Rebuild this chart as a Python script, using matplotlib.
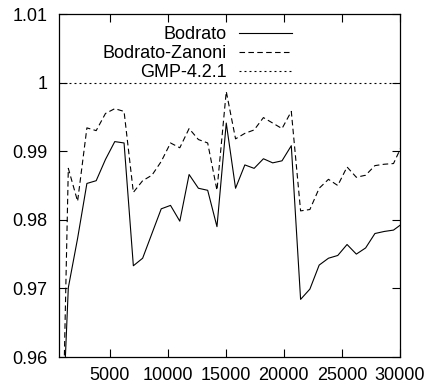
import matplotlib
matplotlib.use("Agg")
import matplotlib.pyplot as plt

plt.rcParams['font.family'] = ['Liberation Sans', 'DejaVu Sans']
plt.rcParams['lines.scale_dashes'] = False

# operand size vs. time ratio to GMP
sizes = [640, 1440, 2240, 3040, 3840, 4640, 5440, 6240, 7040, 7840,
         8640, 9440, 10240, 11040, 11840, 12640, 13440, 14240, 15040, 15840,
         16640, 17440, 18240, 19040, 19840, 20640, 21440, 22240, 23040, 23840,
         24640, 25440, 26240, 27040, 27840, 28640, 29440, 30240]
bodrato = [0.938, 0.9701, 0.9773, 0.9853, 0.9857, 0.9888, 0.9914, 0.9912,
           0.9733, 0.9744, 0.9780, 0.9816, 0.9821, 0.9798, 0.9866, 0.9846,
           0.9843, 0.9790, 0.9941, 0.9846, 0.9880, 0.9875, 0.9889, 0.9883,
           0.9886, 0.9908, 0.9684, 0.9699, 0.9734, 0.9744, 0.9748, 0.9764,
           0.9750, 0.9759, 0.9780, 0.9783, 0.9785, 0.9795]
zanoni = [0.923, 0.9875, 0.9827, 0.9934, 0.9930, 0.9955, 0.9962, 0.9958,
          0.9840, 0.9857, 0.9865, 0.9885, 0.9912, 0.9905, 0.9933, 0.9917,
          0.9912, 0.9843, 0.9987, 0.9918, 0.9926, 0.9931, 0.9949, 0.9941,
          0.9933, 0.9958, 0.9813, 0.9815, 0.9846, 0.9859, 0.9850, 0.9877,
          0.9862, 0.9865, 0.9879, 0.9881, 0.9882, 0.9911]
gmp = [1.0, 1.0, 1.0, 1.0, 1.0, 1.0, 1.0, 1.0, 1.0, 1.0, 1.0, 1.0, 1.0,
       1.0, 1.0, 1.0, 1.0, 1.0, 1.0, 1.0, 1.0, 1.0, 1.0, 1.0, 1.0, 1.0,
       1.0, 1.0, 1.0, 1.0, 1.0, 1.0, 1.0, 1.0, 1.0, 1.0, 1.0, 1.0]

xticks = [5000, 10000, 15000, 20000, 25000, 30000]
yticks = [0.96, 0.97, 0.98, 0.99, 1.0, 1.01]
ylabels = ["0.96", "0.97", "0.98", "0.99", "1", "1.01"]

fig = plt.figure(figsize=(4.28, 3.90), dpi=100)
ax = fig.add_axes([0.1379, 0.0846, 0.7967, 0.8795])

ax.plot(sizes, bodrato, color="black", lw=0.8, label="Bodrato")
ax.plot(sizes, zanoni, color="black", lw=0.8, dashes=(4.0, 2.4),
        label="Bodrato-Zanoni")
ax.plot(sizes, gmp, color="black", lw=0.8, dashes=(1.4, 2.2),
        label="GMP-4.2.1")

ax.set_xlim(640, 30000)
ax.set_ylim(0.96, 1.01)
ax.set_xticks(xticks)
ax.set_xticklabels([str(t) for t in xticks])
ax.set_yticks(yticks)
ax.set_yticklabels(ylabels)
ax.tick_params(direction="in", length=6, width=0.8, labelsize=13,
               top=True, right=True, color="black")
ax.tick_params(axis="y", pad=8.5)
ax.tick_params(axis="x", pad=7)
for sp in ax.spines.values():
    sp.set_linewidth(0.9)

ax.legend(loc="upper right", bbox_to_anchor=(0.698, 0.98), frameon=False,
          markerfirst=False, fontsize=13, handlelength=2.9,
          handletextpad=0.7, labelspacing=0.1, borderpad=0.3,
          borderaxespad=0)

fig.savefig("out.png", dpi=100)
